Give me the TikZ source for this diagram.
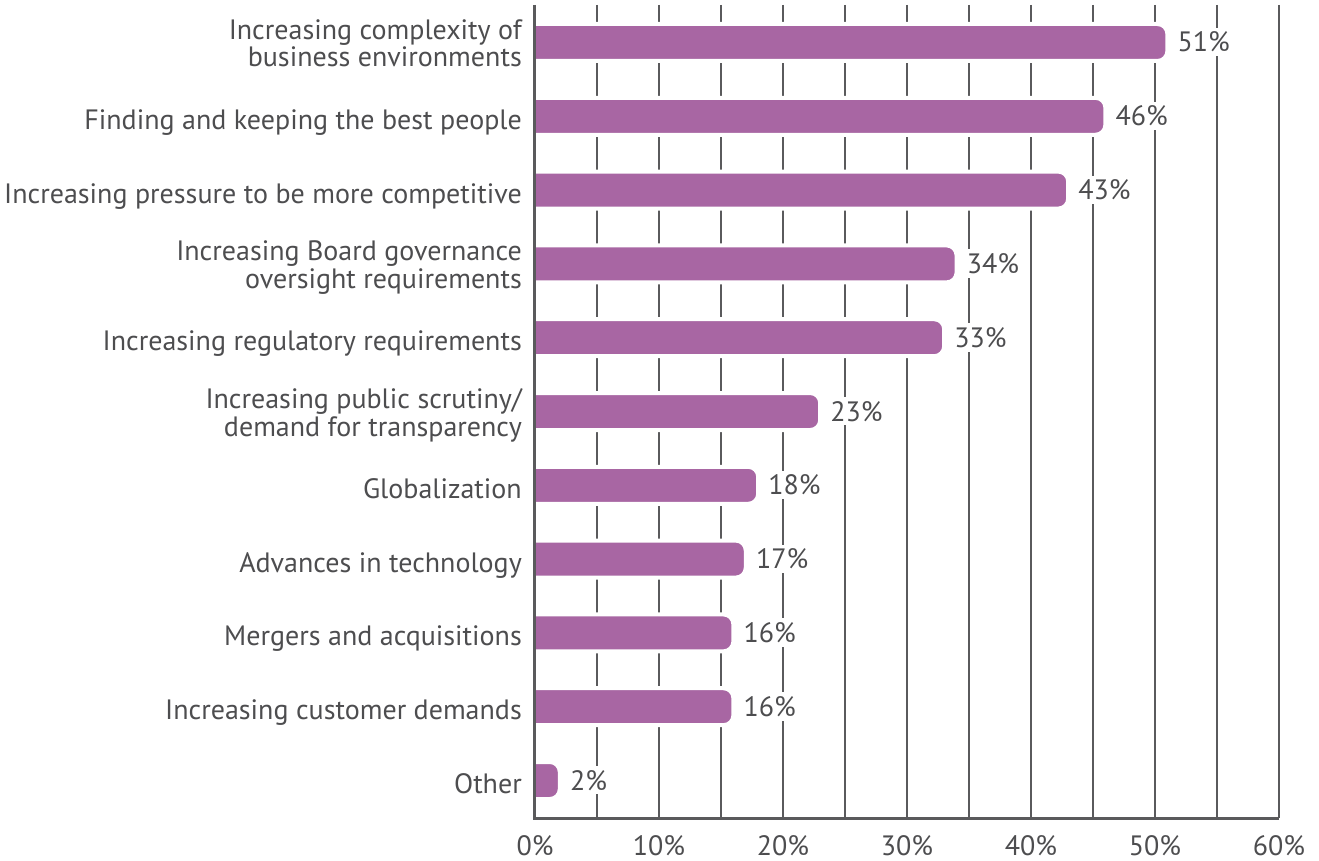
\documentclass[tikz,border=0pt]{standalone}
\usepackage{fontspec}
\setmainfont{PT Sans}
\usetikzlibrary{positioning}
\definecolor{barcol}{HTML}{A866A3}
\definecolor{txtcol}{HTML}{4D4D4F}
\definecolor{gridcol}{HTML}{5A5A5C}
\def\xo{535}
\def\pct{12.4}
\def\barh{18.5}
\def\rowy{42.5+(\i-1)*73.8}
\tikzset{
	catlabel/.style={anchor=base east,align=right,text=txtcol,inner sep=0pt,
		font=\fontsize{28}{27.5}\selectfont},
	vallabel/.style={anchor=base west,text=txtcol,fill=white,inner xsep=2pt,inner ysep=4pt,
		font=\fontsize{28}{27.5}\selectfont},
	ticklabel/.style={anchor=base,text=txtcol,inner sep=0pt,
		font=\fontsize{28}{27.5}\selectfont},
	gridline/.style={draw=gridcol,line width=1.4pt},
	barshape/.style={fill=barcol,draw=white,line width=4pt,rounded corners=10pt}
}

\begin{document}
\begin{tikzpicture}[x=1pt,y=-1pt]
	\useasboundingbox (0,0) rectangle (1319,861);
	% Vertical grid lines every 5 percent.
	\foreach \k in {1,...,12}
		\draw[gridline] ({\xo+\k*5*\pct},5) -- ({\xo+\k*5*\pct},818);

	% Bars with labels, one row each (\dy = baseline of the last text line).
	\foreach \i/\v/\dy/\txt in {
		1/51/24.5/{Increasing complexity of\\business environments},
		2/46/13/{Finding and keeping the best people},
		3/43/13/{Increasing pressure to be more competitive},
		4/34/24.5/{Increasing Board governance\\oversight requirements},
		5/33/13/{Increasing regulatory requirements},
		6/23/24.5/{Increasing public scrutiny/\\demand for transparency},
		7/18/13/{Globalization},
		8/17/13/{Advances in technology},
		9/16/13/{Mergers and acquisitions},
		10/16/13/{Increasing customer demands},
		11/2/13/{Other}}
	{
		\path[barshape] (\xo,{\rowy-\barh}) -- ({\xo+\v*\pct},{\rowy-\barh})
			-- ({\xo+\v*\pct},{\rowy+\barh}) -- (\xo,{\rowy+\barh});
		\node[vallabel] (val\i) at ({\xo+\v*\pct+8},{\rowy+9.5}) {\v\%};
		\node[catlabel] (cat\i) at (522,{\rowy+\dy}) {\txt};
	}

	% Axes.
	\draw[draw=gridcol,line width=3pt] (\xo-1,5) -- (\xo-1,818) -- (1278.6,818);

	% Tick labels.
	\node[ticklabel] (tick0) at (\xo,855) {0\%};
	\foreach \k in {1,...,6}
		\node[ticklabel] (tick\k) at ({\xo+\k*10*\pct},855) {\k0\%};
\end{tikzpicture}
\end{document}
